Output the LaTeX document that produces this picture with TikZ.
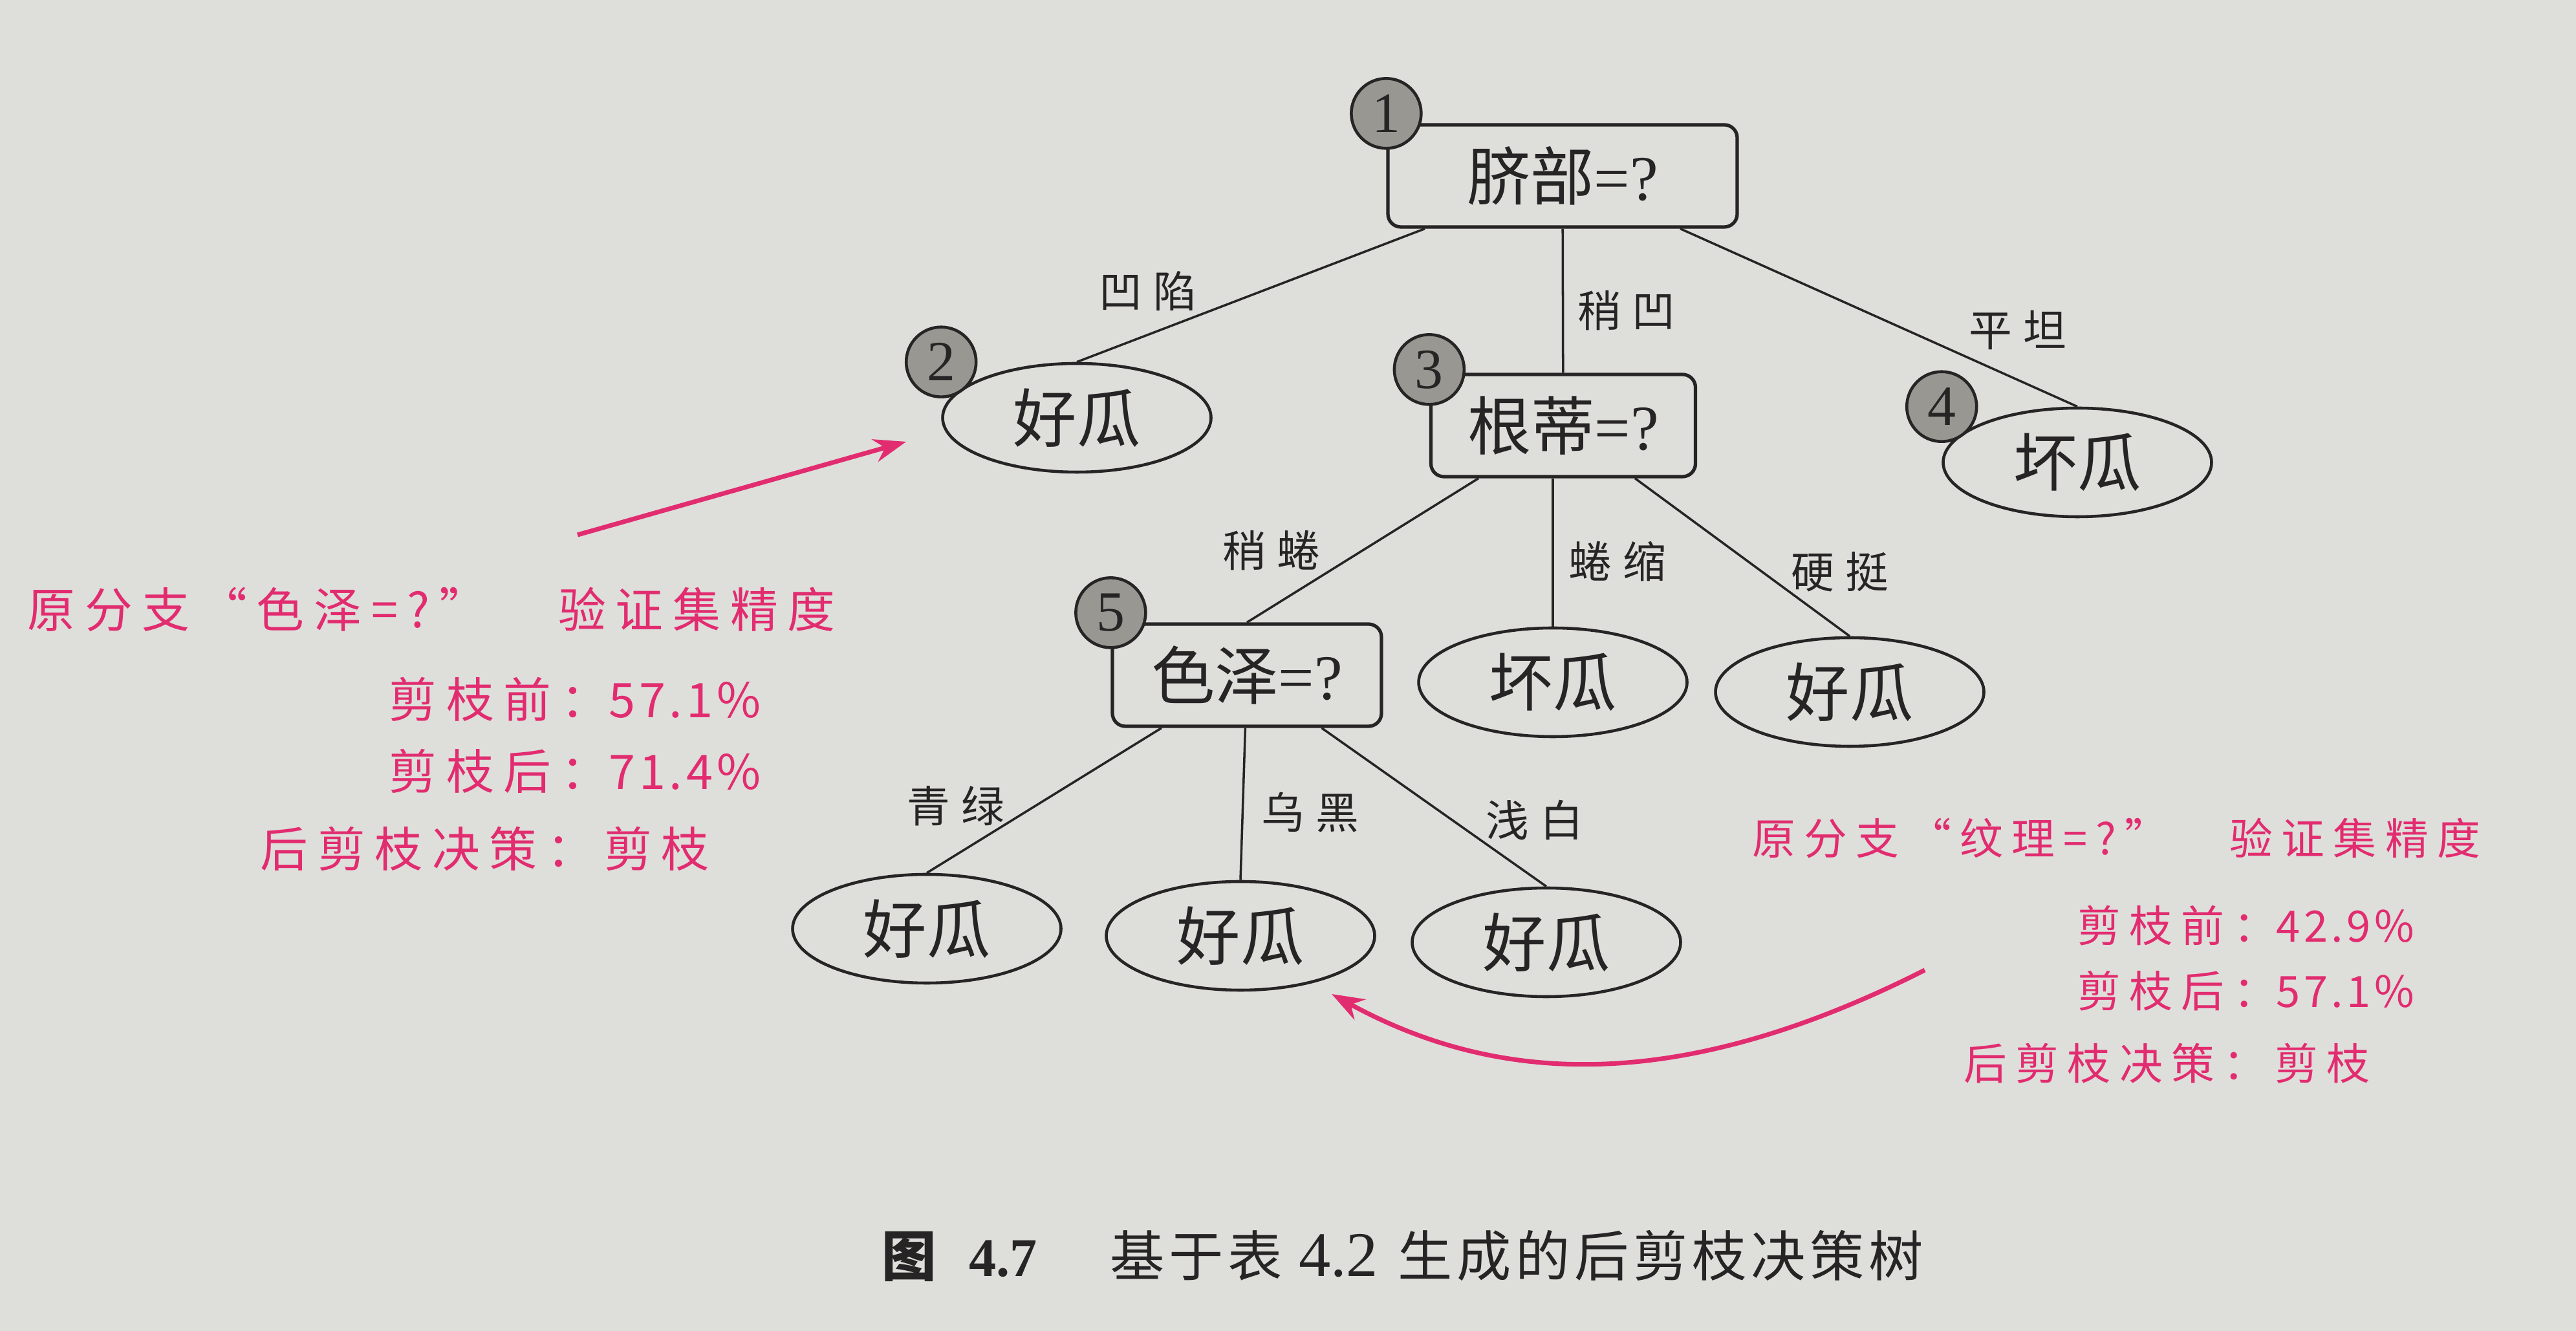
\documentclass[tikz,border=0pt]{standalone}
\usepackage{fontspec}
\setmainfont{Liberation Serif}
\newfontfamily\cjk{Noto Sans CJK SC}
\newfontfamily\cjklbl[LetterSpace=25]{Noto Sans CJK SC}
\newfontfamily\cjknote[LetterSpace=20]{Noto Sans CJK SC}
\newfontfamily\cjknum[LetterSpace=8]{Noto Sans CJK SC}
\newfontfamily\cjkcap[LetterSpace=8]{Noto Sans CJK SC}
\usetikzlibrary{arrows.meta}
\usetikzlibrary{shapes.geometric}
\definecolor{paper}{RGB}{222,222,218}
\definecolor{ink}{RGB}{38,36,36}
\definecolor{pinkink}{RGB}{226,44,112}
\definecolor{tagfill}{RGB}{152,151,146}

\begin{document}
\begin{tikzpicture}
		\tikzset{>=Stealth,
			testbox/.style={draw=ink,line width=1.5pt,rounded corners=0.2cm,minimum height=1.58cm,inner sep=0pt,font=\fontsize{28}{30}\selectfont,text=ink},
			leaf/.style={draw=ink,line width=1.3pt,ellipse,minimum width=4.15cm,minimum height=1.68cm,inner sep=0pt,font=\fontsize{28}{30}\cjk,text=ink},
			tag/.style={circle,draw=ink,line width=1.3pt,fill=tagfill,minimum size=1.08cm,inner sep=0pt,font=\fontsize{25}{27}\selectfont,text=ink},
			edge/.style={draw=ink,line width=1pt},
			lbl/.style={inner sep=0pt,font=\fontsize{19}{21}\cjklbl,text=ink},
			note/.style={anchor=west,inner sep=0pt,font=\fontsize{21}{23}\cjknote,text=pinkink},
			farnote/.style={note,font=\fontsize{19}{21}\cjknote},
			pinkarrow/.style={draw=pinkink,line width=2pt,-{Stealth[length=5mm,width=3.6mm]}}}
		\fill[paper] (0,0) rectangle (39.83,20.58);
		\useasboundingbox (0,0) rectangle (39.83,20.58);
		
		\node[testbox,minimum width=5.4cm] (n1) at (24.16,17.86) {{\cjk 脐部}=?};
		\node[leaf] (n2) at (16.65,14.12) {好瓜};
		\node[testbox,minimum width=4.09cm] (n3) at (24.17,14.00) {{\cjk 根蒂}=?};
		\node[leaf] (n4) at (32.12,13.43) {坏瓜};
		\node[testbox,minimum width=4.16cm] (n5) at (19.28,10.14) {{\cjk 色泽}=?};
		\node[leaf] (n6) at (24.01,10.03) {坏瓜};
		\node[leaf] (n7) at (28.60,9.88) {好瓜};
		\node[leaf] (n8) at (14.33,6.22) {好瓜};
		\node[leaf] (n9) at (19.18,6.11) {好瓜};
		\node[leaf] (n10) at (23.91,6.01) {好瓜};
		
		\draw[edge] (n1) -- (n2.north);
		\draw[edge] (n1) -- (n3);
		\draw[edge] (n1) -- (n4.north);
		\draw[edge] (n3) -- (n5.north);
		\draw[edge] (n3.south -| n6.north) -- (n6.north);
		\draw[edge] (n3) -- (n7.north);
		\draw[edge] (n5) -- (n8.north);
		\draw[edge] (n5) -- (n9.north);
		\draw[edge] (n5) -- (n10.north);
		
		\node[tag] (t1) at ([yshift=0.15cm]n1.north west) {1};
		\node[tag] (t2) at (n2.west |- n2.north) {2};
		\node[tag] (t3) at ([yshift=0.05cm]n3.north west) {3};
		\node[tag] (t4) at (n4.west |- n4.north) {4};
		\node[tag] (t5) at ([yshift=0.15cm]n5.north west) {5};
		
		\node[lbl] (l12) at (17.75,16.08) {凹陷};
		\node[lbl] (l13) at (25.15,15.78) {稍凹};
		\node[lbl] (l14) at (31.20,15.48) {平坦};
		\node[lbl] (l35) at (19.66,12.07) {稍蜷};
		\node[lbl] (l36) at (25.01,11.90) {蜷缩};
		\node[lbl] (l37) at (28.45,11.74) {硬挺};
		\node[lbl] (l58) at (14.78,8.12) {青绿};
		\node[lbl] (l59) at (20.26,8.02) {乌黑};
		\node[lbl] (l510) at (23.73,7.90) {浅白};
		
		\node[note] (p1) at (0.42,11.16) {原分支“色泽=?”\hspace{1.1cm}验证集精度};
		\node[note] (p2) at (6.01,9.77) {剪枝前：{\cjknum 57.1\%}};
		\node[note] (p3) at (6.01,8.66) {剪枝后：{\cjknum 71.4\%}};
		\node[note] (p4) at (4.02,7.46) {后剪枝决策：剪枝};
		\node[farnote] (q1) at (27.09,7.62) {原分支“纹理=?”\hspace{0.95cm}验证集精度};
		\node[farnote] (q2) at (32.12,6.27) {剪枝前：{\cjknum 42.9\%}};
		\node[farnote] (q3) at (32.12,5.26) {剪枝后：{\cjknum 57.1\%}};
		\node[farnote] (q4) at (30.36,4.14) {后剪枝决策：剪枝};
		
		\coordinate (a1s) at (8.93,12.31);
		\coordinate (a1e) at (14.01,13.75);
		\draw[pinkarrow] (a1s) -- (a1e);
		\coordinate (a2s) at (29.76,5.58);
		\coordinate (a2e) at (20.59,5.21);
		\draw[pinkarrow] (a2s) .. controls (26.00,3.68) and (23.20,3.78) .. (a2e);
		
		\node[anchor=west,inner sep=0pt,text=ink,font=\fontsize{24}{26}\selectfont] (cap) at (13.63,1.16) {{\cjk\bfseries 图}\hspace{0.5cm}\textbf{4.7}\hspace{1.13cm}{\cjkcap 基于表}\hspace{0.25cm}{\fontsize{28}{30}\selectfont 4.2}\hspace{0.3cm}{\cjkcap 生成的后剪枝决策树}};
		
		\end{tikzpicture}
\end{document}
